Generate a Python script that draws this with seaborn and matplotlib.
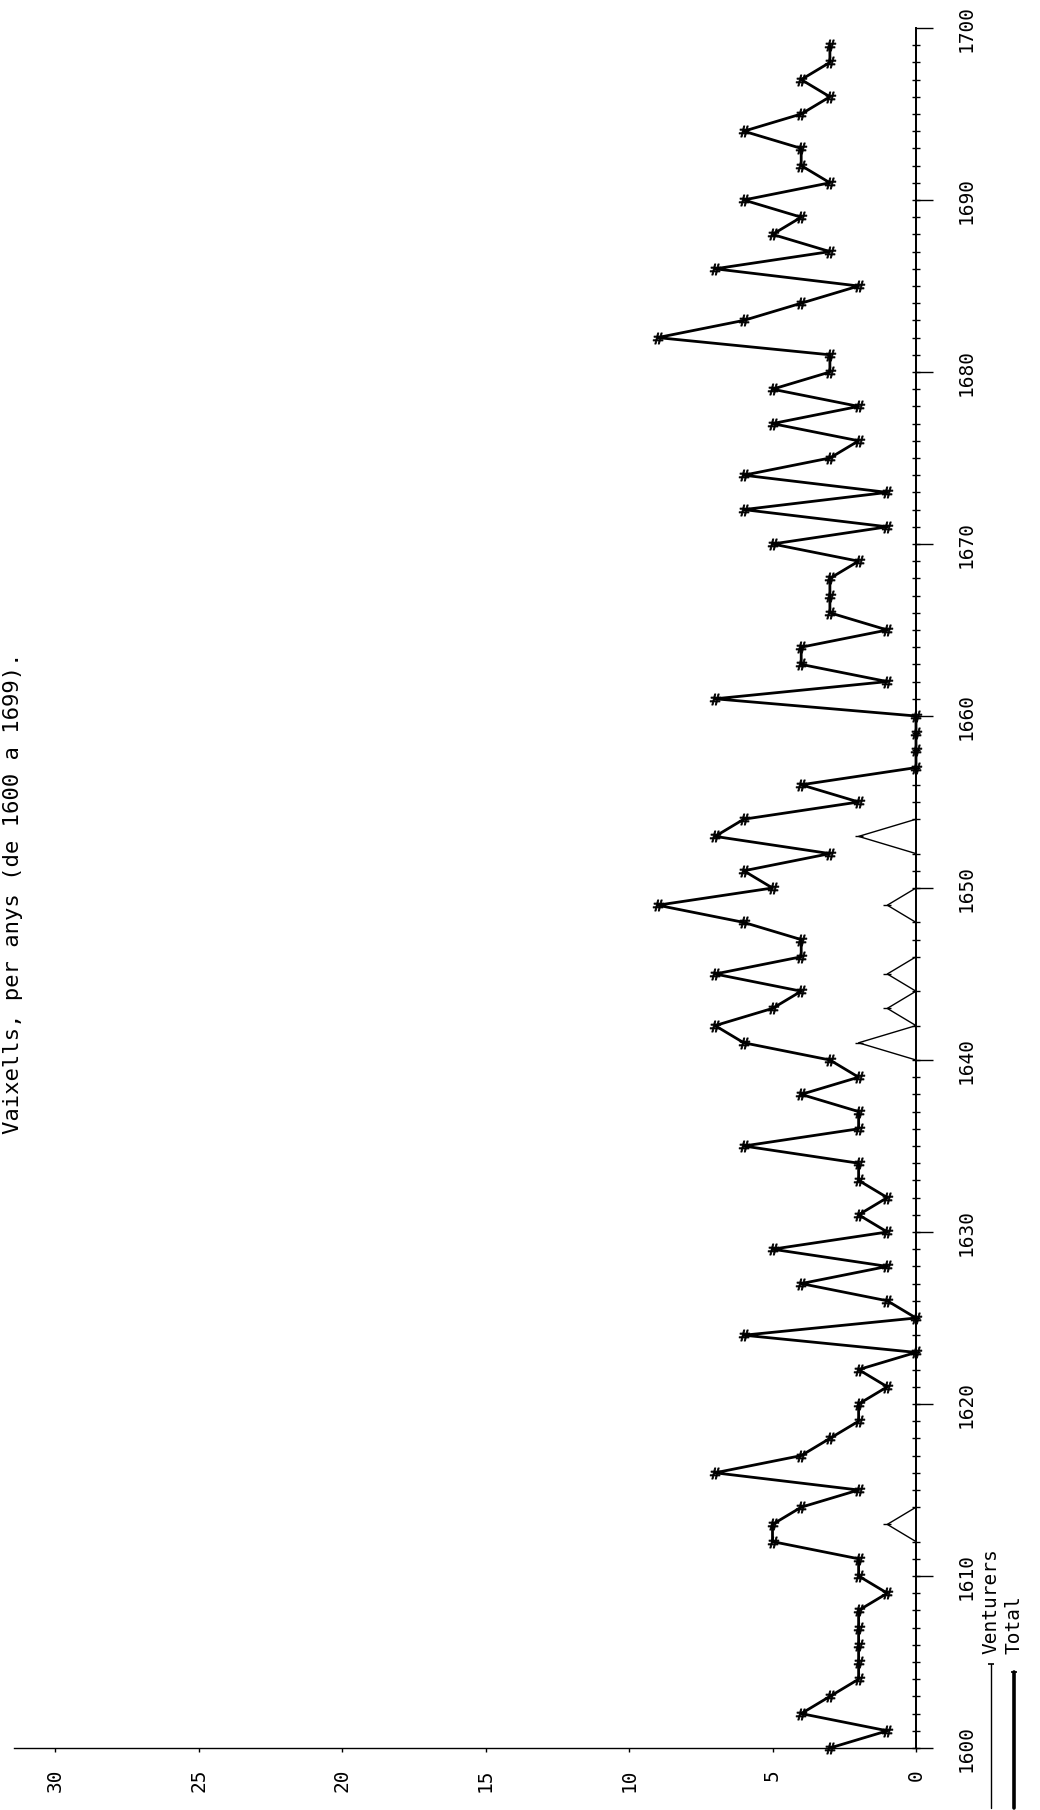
import numpy as np
import pandas as pd
import matplotlib
matplotlib.use("Agg")
import matplotlib.pyplot as plt
import seaborn as sns
from matplotlib.lines import Line2D

# ---------------- data ----------------
years = list(range(1600, 1700))
total = [3, 1, 4, 3, 2, 2, 2, 2, 2, 1,
         2, 2, 5, 5, 4, 2, 7, 4, 3, 2,
         2, 1, 2, 0, 6, 0, 1, 4, 1, 5,
         1, 2, 1, 2, 2, 6, 2, 2, 4, 2,
         3, 6, 7, 5, 4, 7, 4, 4, 6, 9,
         5, 6, 3, 7, 6, 2, 4, 0, 0, 0,
         0, 7, 1, 4, 4, 1, 3, 3, 3, 2,
         5, 1, 6, 1, 6, 3, 2, 5, 2, 5,
         3, 3, 9, 6, 4, 2, 7, 3, 5, 4,
         6, 3, 4, 4, 6, 4, 3, 4, 3, 3]
venturers = [0, 0, 0, 0, 0, 0, 0, 0, 0, 0,
             0, 0, 0, 1, 0, 0, 0, 0, 0, 0,
             0, 0, 0, 0, 0, 0, 0, 0, 0, 0,
             0, 0, 0, 0, 0, 0, 0, 0, 0, 0,
             0, 2, 0, 1, 0, 1, 0, 0, 0, 1,
             0, 0, 0, 2, 0, 0, 0, 0, 0, 0,
             0, 0, 0, 0, 0, 0, 0, 0, 0, 0,
             0, 0, 0, 0, 0, 0, 0, 0, 0, 0,
             0, 0, 0, 0, 0, 0, 0, 0, 0, 0,
             0, 0, 0, 0, 0, 0, 0, 0, 0, 0]
year_ticks = list(range(1600, 1701, 10))
value_ticks = [0, 5, 10, 15, 20, 25, 30]
series_names = ["Venturers", "Total"]
title = "Vaixells, per anys (de 1600 a 1699)."

df = pd.DataFrame({"year": years, "total": total, "venturers": venturers})

# ---------------- style ----------------
sns.set_style("white")
plt.rcParams["font.family"] = ["DejaVu Sans Mono", "DejaVu Sans"]

W, H = 1040, 1810
fig = plt.figure(figsize=(W / 100, H / 100), dpi=100)
fig.patch.set_facecolor("white")

x_left, x_zero = 14, 916     # pixel x of left edge and value 0
y_1600, y_1700 = 1748, 28    # pixel y of years
px_per_unit = 28.7
ax = fig.add_axes([x_left / W, (H - y_1600) / H, (x_zero - x_left) / W, (y_1600 - y_1700) / H])
ax.set_facecolor("white")

# Venturers (thin) and Total (thick), drawn with the page rotated
sns.lineplot(data=df, x="venturers", y="year", orient="y", sort=False, ax=ax,
             color="black", lw=1.0, marker="_", ms=6, mew=1.0,
             mec="black", mfc="black", clip_on=False)
sns.lineplot(data=df, x="total", y="year", orient="y", sort=False, ax=ax,
             color="black", lw=2.0, marker="$\\#$", ms=8, mew=0.6,
             mec="black", mfc="black", clip_on=False)

ax.set_xlim((x_zero - x_left) / px_per_unit, 0)
ax.set_ylim(1600, 1700)
ax.set_xlabel("")
ax.set_ylabel("")

for s in ["top", "left"]:
    ax.spines[s].set_visible(False)
ax.spines["bottom"].set_linewidth(1.0)
ax.spines["right"].set_linewidth(1.4)
ax.spines["bottom"].set_color("black")
ax.spines["right"].set_color("black")

ax.yaxis.tick_right()
ax.set_yticks(year_ticks)
ax.set_yticklabels([str(y) for y in year_ticks], rotation=90, va="center", ha="left",
                   fontsize=14)
ax.tick_params(axis="y", which="major", direction="out", length=12, width=1.0,
               pad=17, colors="black", right=True, left=False)

ax.set_xticks(value_ticks)
ax.set_xticklabels([str(v) for v in value_ticks], rotation=90, ha="center", va="top",
                   fontsize=14)
ax.tick_params(axis="x", which="major", direction="out", length=3, width=1.0,
               pad=12, colors="black", bottom=True)
ax.grid(False)

# title (page rotated: text runs bottom to top, at the left edge of the page)
fig.text(3 / W, 1 - 652 / H, title, rotation=90, ha="left", va="top",
         fontsize=16, color="black")

# legend, rotated with the page
leg_specs = [(991, 1664, 1.0, series_names[0]), (1014, 1672, 2.6, series_names[1])]
for x, ytop, lw, name in leg_specs:
    fig.add_artist(Line2D([x / W, x / W], [1 - ytop / H, 1 - 1808 / H],
                          transform=fig.transFigure, color="black", lw=lw))
    fig.add_artist(Line2D([x / W], [1 - ytop / H], transform=fig.transFigure,
                          color="black", marker="_", ms=5, mew=1.2))
    fig.text(x / W, 1 - (1664 - 10) / H, name, rotation=90, ha="center", va="bottom",
             fontsize=14, color="black")

fig.savefig("out.png", dpi=100, facecolor="white")
